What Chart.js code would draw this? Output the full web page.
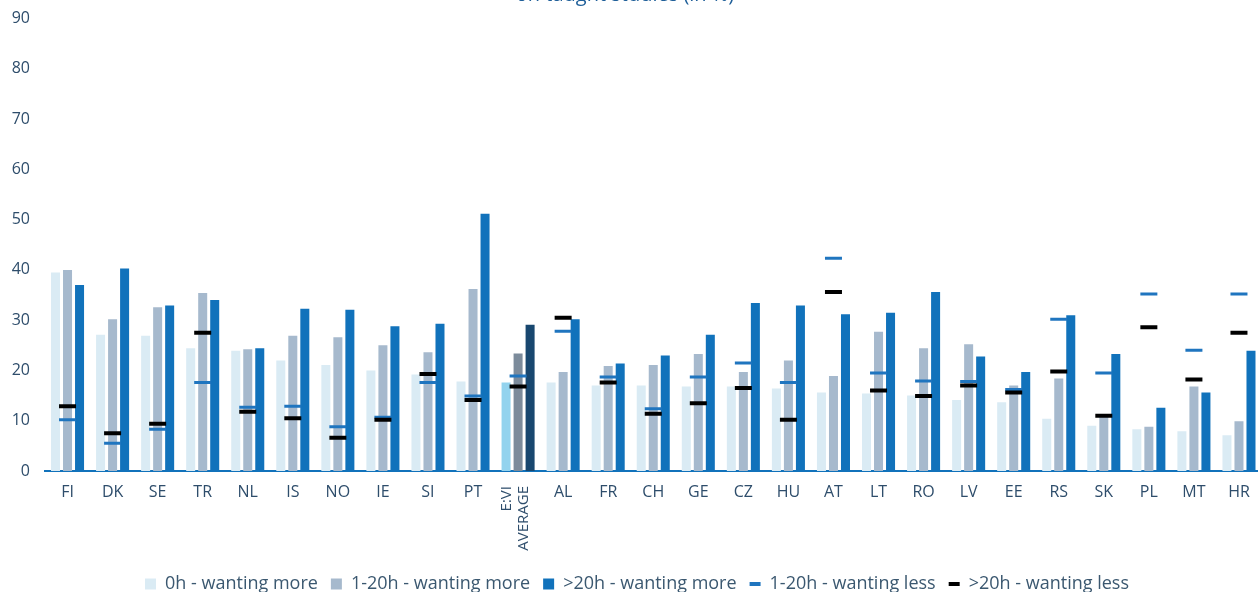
<!DOCTYPE html>
<html>
<head>
<meta charset="utf-8">
<script src="https://cdn.jsdelivr.net/npm/chart.js@4/dist/chart.umd.min.js"></script>
<style>
  html, body { margin: 0; padding: 0; background: #fff; }
  body { width: 1258px; height: 592px; overflow: hidden; position: relative; }
  #wrap { position: absolute; left: 0; top: -6px; width: 1274px; height: 609px; }
  #title {
    position: absolute; left: 0; width: 1250px; top: -18px; text-align: center;
    font: 20px/24px "Open Sans", sans-serif; color: #1f5f99; z-index: 2;
  }
</style>
</head>
<body>
<div id="title">on taught studies (in %)</div>
<div id="wrap"><canvas id="my-chart"></canvas></div>
<script>
const countries = ['FI', 'DK', 'SE', 'TR', 'NL', 'IS', 'NO', 'IE', 'SI', 'PT', 'E:VI AVERAGE',
  'AL', 'FR', 'CH', 'GE', 'CZ', 'HU', 'AT', 'LT', 'RO', 'LV', 'EE', 'RS', 'SK', 'PL', 'MT', 'HR'];

const zeroMore = [39.5, 27.1, 26.9, 24.4, 23.9, 22.0, 21.1, 20.0, 19.2, 17.8, 17.6,
  17.6, 17.0, 17.0, 16.8, 16.8, 16.4, 15.6, 15.4, 15.0, 14.1, 13.7, 10.4, 9.0, 8.3, 7.9, 7.1];
const lowMore = [40.0, 30.2, 32.6, 35.4, 24.2, 26.9, 26.6, 25.0, 23.6, 36.2, 23.4,
  19.7, 20.9, 21.1, 23.3, 19.7, 22.0, 18.9, 27.7, 24.4, 25.2, 17.0, 18.4, 10.8, 8.8, 16.8, 9.9];
const highMore = [37.0, 40.3, 32.9, 34.0, 24.4, 32.3, 32.1, 28.8, 29.3, 51.2, 29.1,
  30.2, 21.4, 23.0, 27.1, 33.4, 32.9, 31.2, 31.5, 35.6, 22.8, 19.7, 31.0, 23.3, 12.6, 15.6, 23.9];
const lowLess = [10.2, 5.5, 8.3, 17.6, 12.7, 12.9, 8.8, 10.7, 17.6, 14.9, 18.9,
  27.8, 18.7, 12.4, 18.7, 21.5, 17.6, 42.3, 19.5, 17.9, 17.8, 16.2, 30.2, 19.5, 35.2, 24.0, 35.2];
const highLess = [12.9, 7.5, 9.4, 27.5, 11.8, 10.5, 6.6, 10.2, 19.3, 14.1, 16.8,
  30.5, 17.6, 11.4, 13.5, 16.5, 10.2, 35.6, 16.0, 14.9, 17.0, 15.6, 19.8, 11.0, 28.6, 18.2, 27.5];

const avgIndex = countries.indexOf('E:VI AVERAGE');
const textColor = '#2e4d6b';
const font = 'Open Sans';

const barColor = (normal, avg) => ctx => ctx.dataIndex === avgIndex ? avg : normal;

const avgLabel = {
  id: 'avgLabel',
  afterDraw(chart) {
    const x = chart.scales.x.getPixelForValue(avgIndex);
    const y = chart.scales.x.top + 15;
    const ctx = chart.ctx;
    ctx.save();
    ctx.translate(x, y);
    ctx.rotate(-Math.PI / 2);
    ctx.fillStyle = textColor;
    ctx.font = '15px "' + font + '"';
    ctx.textAlign = 'right';
    ctx.textBaseline = 'middle';
    ctx.fillText('E:VI', 0, -11);
    ctx.fillText('AVERAGE', 0, 6);
    ctx.restore();
  }
};

const ctx = document.getElementById('my-chart');
new Chart(ctx, {
  type: 'bar',
  data: {
    labels: countries.map(c => c === 'E:VI AVERAGE' ? '' : c),
    datasets: [
      { label: '0h - wanting more', data: zeroMore, order: 2,
        backgroundColor: barColor('#daebf4', '#93d3ee') },
      { label: '1-20h - wanting more', data: lowMore, order: 2,
        backgroundColor: barColor('#a6b9cd', '#7c8b9b') },
      { label: '>20h - wanting more', data: highMore, order: 2,
        backgroundColor: barColor('#1172bb', '#18476f') },
      { type: 'line', label: '1-20h - wanting less', data: lowLess, order: 1,
        showLine: false, pointStyle: 'line', pointRadius: 8.5, pointHoverRadius: 8.5,
        borderColor: '#1f75bf', borderWidth: 3, pointBorderWidth: 3 },
      { type: 'line', label: '>20h - wanting less', data: highLess, order: 0,
        showLine: false, pointStyle: 'line', pointRadius: 8.5, pointHoverRadius: 8.5,
        borderColor: '#000000', borderWidth: 4, pointBorderWidth: 4 }
    ]
  },
  options: {
    responsive: true,
    maintainAspectRatio: false,
    animation: false,
    datasets: { bar: { categoryPercentage: 0.8, barPercentage: 0.75 } },
    layout: { padding: { top: 1, left: 0, right: 0, bottom: 0 } },
    scales: {
      x: {
        grid: { display: false, drawTicks: false },
        border: { color: '#1172bb', width: 2 },
        ticks: { color: textColor, font: { family: font, size: 16 }, padding: 12,
          autoSkip: false, maxRotation: 0 },
        afterFit: scale => { scale.height = 91; }
      },
      y: {
        min: 0, max: 90,
        grid: { display: false, drawTicks: false },
        border: { display: false },
        ticks: { stepSize: 10, color: textColor, font: { family: font, size: 16 }, padding: 15 },
        afterFit: scale => { scale.width = 45; }
      }
    },
    plugins: {
      tooltip: { enabled: false },
      legend: {
        position: 'bottom',
        labels: {
          color: '#3b5870',
          font: { family: font, size: 18 },
          usePointStyle: true,
          pointStyleWidth: 11,
          boxHeight: 11,
          padding: 13,
          sort: (a, b) => a.datasetIndex - b.datasetIndex,
          generateLabels: chart => {
            const items = Chart.defaults.plugins.legend.labels.generateLabels(chart);
            items.forEach(item => {
              const ds = chart.data.datasets[item.datasetIndex];
              if (ds.type === 'line') {
                item.pointStyle = 'line';
                item.strokeStyle = ds.borderColor;
                item.lineWidth = 4;
              } else {
                item.pointStyle = 'rect';
                item.lineWidth = 0;
                item.strokeStyle = 'rgba(0,0,0,0)';
              }
            });
            return items;
          }
        }
      }
    }
  },
  plugins: [avgLabel]
});
</script>
</body>
</html>
